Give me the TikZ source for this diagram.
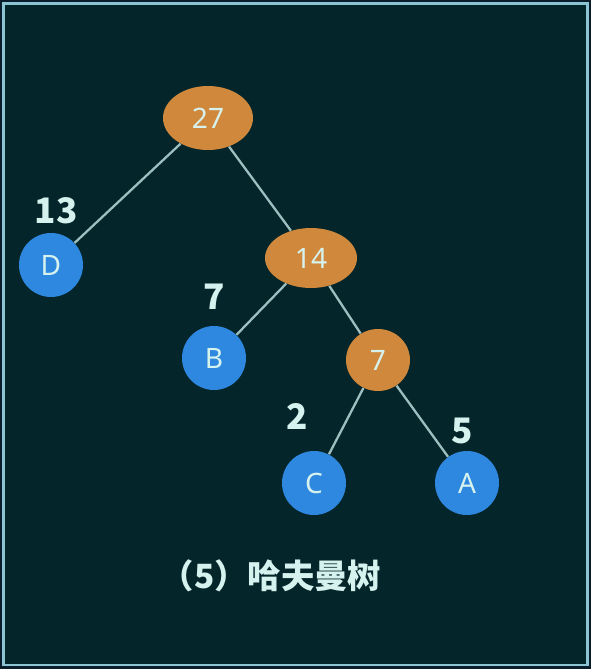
\documentclass[tikz,border=0pt]{standalone}
\usepackage{fontspec}
\setmainfont{Noto Sans}
\newfontfamily\cjk{Noto Sans CJK SC}
\usetikzlibrary{shapes.geometric}
\definecolor{bgcol}{HTML}{04252A}
\definecolor{rimcol}{HTML}{0B1C2A}
\definecolor{framecol}{HTML}{8DC4D4}
\definecolor{sumcol}{HTML}{D0893C}
\definecolor{leafcol}{HTML}{2E88DF}
\definecolor{edgecol}{HTML}{9DBFBF}
\definecolor{txtcol}{HTML}{D6F2EE}
\begin{document}
\begin{tikzpicture}[x=0.02cm, y=-0.02cm,
    sum/.style ={ellipse, fill=sumcol, inner sep=0pt, text=txtcol, font=\fontsize{16}{16}\selectfont},
    leaf/.style ={circle, fill=leafcol, minimum size=1.28cm, inner sep=0pt, text=txtcol, font=\fontsize{16}{16}\selectfont},
    weight/.style ={text=txtcol, font=\cjk\bfseries\fontsize{20}{20}\selectfont},
    branch/.style ={edgecol, line width=1.3pt}]
   \fill[rimcol] (0,0) rectangle (591,669);
   \fill[bgcol] (4,4) rectangle (587,665);
   \draw[framecol, line width=1.4pt] (3.5,3.5) rectangle (587.5,665);

   \node[sum, minimum width=1.8cm, minimum height=1.28cm] (n27) at (208,118) {27};
   \node[sum, minimum width=1.84cm, minimum height=1.2cm] (n14) at (311,258) {14};
   \node[sum, minimum width=1.28cm, minimum height=1.24cm] (n7)  at (378,360) {7};
   \node[leaf] (D) at (51,265)  {D};
   \node[leaf] (B) at (214,358) {B};
   \node[leaf] (C) at (314,483) {C};
   \node[leaf] (A) at (467,483) {A};

   \node[weight] (wD) at (56,211)  {13};
   \node[weight] (wB) at (214,297) {7};
   \node[weight] (wC) at (297,416) {2};
   \node[weight] (wA) at (462,431) {5};

   \draw[branch] (n27) to  (D);
   \draw[branch] (n27) to  (n14);
   \draw[branch] (n14) to  (B);
   \draw[branch] (n14) to  (n7);
   \draw[branch] (n7) to  (C);
      \draw[branch] (n7) to  (A);

   \node[text=txtcol, font=\cjk\bfseries\fontsize{19}{19}\selectfont] (title) at (271,576) {（5）哈夫曼树};
 \end{tikzpicture}
\end{document}
